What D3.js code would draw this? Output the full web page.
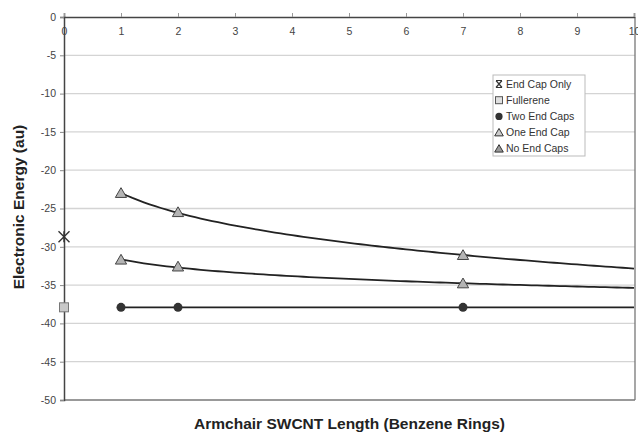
<!DOCTYPE html>
<html>
<head>
<meta charset="utf-8">
<script src="https://cdn.jsdelivr.net/npm/d3@7"></script>
<style>
  body { margin: 0; background: #fff; }
  svg { font-family: "Liberation Sans", Arial, sans-serif; }
</style>
</head>
<body>
<svg id="chart" width="638" height="433"></svg>
<script>
// data
const xTicks = [0, 1, 2, 3, 4, 5, 6, 7, 8, 9, 10];
const yTicks = [0, -5, -10, -15, -20, -25, -30, -35, -40, -45, -50];

const endCapOnly = [{ x: 0, y: -28.7 }];
const fullerene = [{ x: 0, y: -37.9 }];
const twoEndCaps = [{ x: 1, y: -37.9 }, { x: 2, y: -37.9 }, { x: 7, y: -37.9 }];
const oneEndCap = [{ x: 1, y: -31.7 }, { x: 2, y: -32.6 }, { x: 7, y: -34.8 }];
const noEndCaps = [{ x: 1, y: -23.0 }, { x: 2, y: -25.5 }, { x: 7, y: -31.1 }];

const legendNames = ["End Cap Only", "Fullerene", "Two End Caps", "One End Cap", "No End Caps"];

const svg = d3.select("#chart");
const mLeft = 64, mRight = 635, mTop = 17, mBottom = 400;

const x = d3.scaleLinear().domain([0, 10]).range([mLeft, mLeft + 570]);
const y = d3.scaleLinear().domain([0, -50]).range([mTop, mBottom]);

// gridlines
svg.append("g").selectAll("line")
  .data(yTicks.filter(d => d !== 0 && d !== -50))
  .join("line")
  .attr("x1", mLeft).attr("x2", mRight)
  .attr("y1", d => y(d)).attr("y2", d => y(d))
  .attr("stroke", "#d4d4d4").attr("stroke-width", 1.3);

// frame right / bottom
svg.append("line").attr("x1", mRight).attr("x2", mRight).attr("y1", mTop).attr("y2", mBottom)
  .attr("stroke", "#777").attr("stroke-width", 1.3);
svg.append("line").attr("x1", mLeft).attr("x2", mRight).attr("y1", mBottom).attr("y2", mBottom)
  .attr("stroke", "#777").attr("stroke-width", 1.3);

// plain hyphen for negatives, like the original
const fmt = d => String(d);

// top x axis, labels below the line
const xAxis = svg.append("g").attr("transform", `translate(0,${mTop})`)
  .call(d3.axisTop(x).tickValues(xTicks).tickSize(4).tickFormat(fmt));
xAxis.select(".domain").attr("stroke", "#444").attr("stroke-width", 1.5);
xAxis.selectAll(".tick line").attr("stroke", "#999");
xAxis.selectAll(".tick text").attr("y", 18).attr("dy", "0").attr("fill", "#444")
  .attr("font-size", 10.5);

// left y axis
const yAxis = svg.append("g").attr("transform", `translate(${mLeft},0)`)
  .call(d3.axisLeft(y).tickValues(yTicks).tickSize(4).tickFormat(fmt));
yAxis.select(".domain").attr("stroke", "#444").attr("stroke-width", 1.5);
yAxis.selectAll(".tick line").attr("stroke", "#888");
yAxis.selectAll(".tick text").attr("fill", "#444").attr("font-size", 10.5).attr("x", -8);

// power trendlines (least squares in log-log, like the spreadsheet)
function powerFit(pts) {
  const lx = pts.map(p => Math.log(p.x)), ly = pts.map(p => Math.log(-p.y));
  const mx = d3.mean(lx), my = d3.mean(ly);
  const b = d3.sum(lx, (v, i) => (v - mx) * (ly[i] - my)) / d3.sum(lx, v => (v - mx) ** 2);
  const a = Math.exp(my - b * mx);
  return xv => -a * Math.pow(xv, b);
}
const line = d3.line().x(d => x(d.x)).y(d => y(d.y)).curve(d3.curveLinear);
[noEndCaps, oneEndCap].forEach(s => {
  const f = powerFit(s);
  const pts = d3.range(1, 10.01, 0.1).map(v => ({ x: v, y: f(v) }));
  svg.append("path").attr("d", line(pts)).attr("fill", "none")
    .attr("stroke", "#222").attr("stroke-width", 1.8);
});
{
  const m = d3.mean(twoEndCaps, d => d.y);
  svg.append("path").attr("d", line([{ x: 1, y: m }, { x: 10, y: m }]))
    .attr("fill", "none").attr("stroke", "#222").attr("stroke-width", 1.8);
}

// markers
function drawMarker(g, type, cx, cy) {
  if (type === 0) {
    const r = 5.5;
    g.append("path")
      .attr("d", `M${cx - r},${cy - r}L${cx + r},${cy + r}M${cx - r},${cy + r}L${cx + r},${cy - r}M${cx},${cy - r}L${cx},${cy + r}`)
      .attr("stroke", "#333").attr("stroke-width", 1.4).attr("fill", "none");
  } else if (type === 1) {
    g.append("rect").attr("x", cx - 4.5).attr("y", cy - 4.5).attr("width", 9).attr("height", 9)
      .attr("fill", "#c8c8c8").attr("stroke", "#777").attr("stroke-width", 1);
  } else if (type === 2) {
    g.append("circle").attr("cx", cx).attr("cy", cy).attr("r", 4.5).attr("fill", "#333");
  } else {
    g.append("path").attr("d", d3.symbol(d3.symbolTriangle, 55)())
      .attr("transform", `translate(${cx},${cy + 1})`)
      .attr("fill", "#b4b4b4").attr("stroke", "#444").attr("stroke-width", 1);
  }
}
const series = [endCapOnly, fullerene, twoEndCaps, oneEndCap, noEndCaps];
const mg = svg.append("g");
series.forEach((s, i) => s.forEach(d => drawMarker(mg, i, x(d.x), y(d.y))));

// legend
const lg = svg.append("g").attr("transform", "translate(493,75)");
lg.append("rect").attr("width", 92).attr("height", 81)
  .attr("fill", "#fff").attr("stroke", "#bbb").attr("stroke-width", 1);
legendNames.forEach((name, i) => {
  const ly = 9 + i * 16.2;
  const g = lg.append("g");
  if (i === 0) {
    g.append("path").attr("d", `M3,${ly - 3.5}L9,${ly + 3.5}M3,${ly + 3.5}L9,${ly - 3.5}M3,${ly - 3.5}L9,${ly - 3.5}M3,${ly + 3.5}L9,${ly + 3.5}`)
      .attr("stroke", "#333").attr("stroke-width", 1.2);
  } else if (i === 1) {
    g.append("rect").attr("x", 2.5).attr("y", ly - 3.5).attr("width", 7).attr("height", 7)
      .attr("fill", "#e0e0e0").attr("stroke", "#555");
  } else if (i === 2) {
    g.append("circle").attr("cx", 6).attr("cy", ly).attr("r", 3.6).attr("fill", "#333");
  } else {
    g.append("path").attr("d", d3.symbol(d3.symbolTriangle, 32)())
      .attr("transform", `translate(6,${ly + 0.8})`)
      .attr("fill", i === 3 ? "#ccc" : "#999").attr("stroke", "#333").attr("stroke-width", 1);
  }
  g.append("text").attr("x", 13).attr("y", ly + 3.5).attr("font-size", 10.5)
    .attr("fill", "#333").text(name);
});

// axis titles
svg.append("text").attr("x", (mLeft + mRight) / 2).attr("y", 429)
  .attr("text-anchor", "middle").attr("font-size", 15.5).attr("font-weight", "bold")
  .attr("fill", "#222").text("Armchair SWCNT Length (Benzene Rings)");
svg.append("text").attr("transform", `translate(24,207) rotate(-90)`)
  .attr("text-anchor", "middle").attr("font-size", 15.5).attr("font-weight", "bold")
  .attr("fill", "#222").text("Electronic Energy (au)");
</script>
</body>
</html>
